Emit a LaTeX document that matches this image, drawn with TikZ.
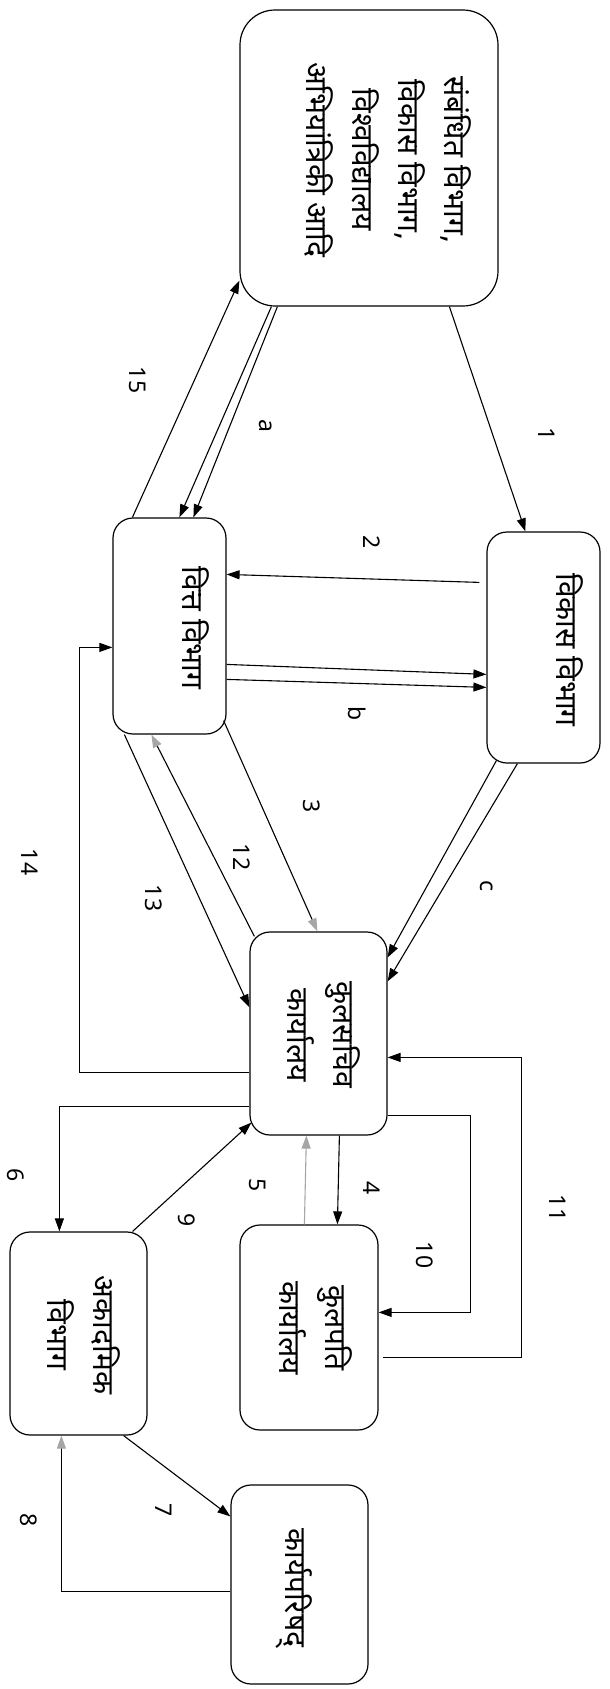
\documentclass[tikz,border=0pt]{standalone}
\usepackage{fontspec}
\setmainfont{Noto Sans}
\newfontfamily\dev[Script=Devanagari]{Noto Sans}
\usetikzlibrary{arrows.meta,calc}
\begin{document}
\begin{tikzpicture}[x=1pt,y=-1pt,
  box/.style={draw, line width=1.2pt, rounded corners=20pt, inner sep=0pt},
  txt/.style={rotate=-90, font=\dev\fontsize{30}{46}\selectfont, align=center, inner sep=0pt},
  lbl/.style={rotate=-90, font=\fontsize{23}{26}\selectfont, inner sep=0pt},
  conn/.style={line width=1.1pt},
  arr/.style={conn, -{Triangle[length=13pt,width=9pt]}},
  garr/.style={conn, -{Triangle[length=13pt,width=9pt,color=gray!70]}}
]
\useasboundingbox (0,0) rectangle (610,1689);
% boxes
\node[box, rounded corners=35pt, minimum width=258pt, minimum height=296pt] (src) at (369,158) {};
\node[box, minimum width=113pt, minimum height=231pt] (vikas) at (543.5,647.5) {};
\node[box, minimum width=113pt, minimum height=216pt] (vitta) at (169.5,626) {};
\node[box, minimum width=137pt, minimum height=203pt] (ks) at (318.5,1033.5) {};
\node[box, minimum width=138pt, minimum height=205pt] (kp) at (309,1327.5) {};
\node[box, minimum width=137pt, minimum height=203pt] (ak) at (78.5,1333.5) {};
\node[box, minimum width=137pt, minimum height=199pt] (kr) at (299.5,1584.5) {};
% texts
\node[txt] (tsrc) at (388,160) {संबंधित विभाग,\\विकास विभाग,\\विश्वविद्यालय\\अभियांत्रिकी आदि};
\node[txt] (tvikas) at (570,650) {विकास विभाग};
\node[txt] (tvitta) at (196,628) {वित्त विभाग};
\node[txt] (tks) at (324,1035) {कुलसचिव\\कार्यालय};
\node[txt] (tkp) at (316,1328) {कुलपति\\कार्यालय};
\node[txt] (tak) at (84,1335) {अकादमिक\\विभाग};
\node[txt] (tkr) at (294,1588) {कार्यपरिषद्};
% connectors
\draw[arr] ($(src.south west)+(210,0)$) -- ($(vikas.north west)+(39,0)$);
\draw[arr] ($(src.south west)+(32,0)$) -- ($(vitta.north west)+(67,0)$);
\draw[arr] ($(src.south west)+(38,0)$) -- ($(vitta.north west)+(81,0)$);
\draw[arr] ($(vitta.north west)+(20,0)$) -- ($(src.south west)+(0,-26)$);
\draw[arr] ($(vikas.north west)+(-7,51)$) -- ($(vitta.north east)+(0,57)$);
\draw[arr] ($(vitta.north east)+(0,147)$) -- ($(vikas.north west)+(0,143)$);
\draw[arr] ($(vitta.north east)+(0,162)$) -- ($(vikas.north west)+(0,156)$);
\draw[garr] ($(vitta.south east)+(-3,-14)$) -- ($(ks.north west)+(68,0)$);
\draw[garr] ($(ks.north west)+(5,5)$) -- ($(vitta.south west)+(39,0)$);
\draw[arr] ($(vitta.south west)+(12,0)$) -- ($(ks.north west)+(0,76)$);
\draw[arr] ($(vikas.south west)+(10,-3)$) -- ($(ks.north east)+(0,26)$);
\draw[arr] ($(vikas.south west)+(31,0)$) -- ($(ks.north east)+(0,50)$);
\draw[arr] ($(ks.north west)+(0,141)$) -| ($(vitta.north west)+(-33,130)$) -- ($(vitta.north west)+(0,130)$);
\draw[arr] ($(ks.north west)+(0,175)$) -| ($(ak.north west)+(50,0)$);
\draw[arr] ($(ak.north east)+(-15,0)$) -- ($(ks.south west)+(2,-13)$);
\draw[garr, gray!70] ($(kp.north west)+(65,0)$) -- ($(ks.south west)+(57,0)$);
\draw[arr] ($(ks.south west)+(90,0)$) -- ($(kp.north west)+(98,0)$);
\draw[arr] ($(ks.south east)+(0,-20)$) -| ($(kp.north east)+(92,88)$) -- ($(kp.north east)+(0,88)$);
\draw[arr] ($(kp.north east)+(4,133)$) -| ($(ks.north east)+(134,126)$) -- ($(ks.north east)+(0,126)$);
\draw[arr] ($(ak.south east)+(-24,0)$) -- ($(kr.north west)+(0,32)$);
\draw[garr] ($(kr.north west)+(0,107)$) -| ($(ak.south west)+(52,0)$);
% labels
\node[lbl] (l1) at (547,434) {1};
\node[lbl] (l15) at (138,380) {15};
\node[lbl] (la) at (266,426) {a};
\node[lbl] (l2) at (372,542) {2};
\node[lbl] (lb) at (357,714) {b};
\node[lbl] (l14) at (30,862) {14};
\node[lbl] (l12) at (242,857) {12};
\node[lbl] (l3) at (312,806) {3};
\node[lbl] (l13) at (154,898) {13};
\node[lbl] (lc) at (487,886) {c};
\node[lbl] (l6) at (16,1175) {6};
\node[lbl] (l9) at (187,1220) {9};
\node[lbl] (l5) at (258,1185) {5};
\node[lbl] (l4) at (372,1188) {4};
\node[lbl] (l10) at (425,1255) {10};
\node[lbl] (l11) at (558,1208) {11};
\node[lbl] (l7) at (164,1510) {7};
\node[lbl] (l8) at (29,1520) {8};
\end{tikzpicture}
\end{document}
